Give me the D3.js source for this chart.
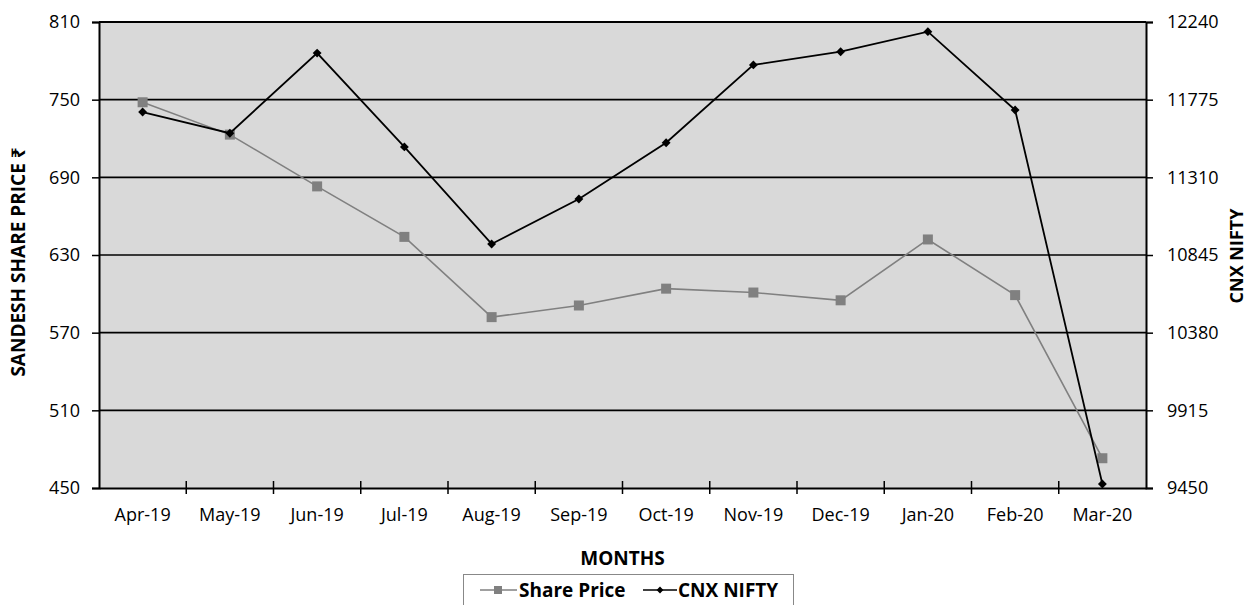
<!DOCTYPE html>
<html>
<head>
<meta charset="utf-8">
<script src="https://cdn.jsdelivr.net/npm/d3@7"></script>
<style>
  body { margin: 0; background: #fff; }
  svg { display: block; }
</style>
</head>
<body>
<script>
var months = ["Apr-19", "May-19", "Jun-19", "Jul-19", "Aug-19", "Sep-19",
  "Oct-19", "Nov-19", "Dec-19", "Jan-20", "Feb-20", "Mar-20"];
var sharePrice = [748, 723, 683, 644, 582, 591, 604, 601, 595, 642, 599, 473];
var cnxNifty = [11701, 11574, 12054, 11492, 10911, 11180, 11517, 11983, 12062, 12182, 11713, 9474];
var leftTicks = [450, 510, 570, 630, 690, 750, 810];
var rightTicks = [9450, 9915, 10380, 10845, 11310, 11775, 12240];

var font = "'Open Sans', 'Noto Sans', sans-serif";

var width = 1247,
  height = 605,
  margin = { top: 22, right: 101, bottom: 117, left: 99 };

var svg = d3.select("body").append("svg")
  .attr("width", width)
  .attr("height", height)
  .style("font-family", font);

var x = d3.scaleBand()
  .domain(months)
  .range([margin.left, width - margin.right]);

var yLeft = d3.scaleLinear()
  .domain([450, 810])
  .range([height - margin.bottom, margin.top]);

var yRight = d3.scaleLinear()
  .domain([9450, 12240])
  .range([height - margin.bottom, margin.top]);

// plot background
svg.append("rect")
  .attr("x", margin.left)
  .attr("y", margin.top)
  .attr("width", width - margin.left - margin.right)
  .attr("height", height - margin.top - margin.bottom)
  .attr("fill", "#d9d9d9");

// gridlines
svg.append("g")
  .selectAll("line")
  .data(leftTicks.slice(1))
  .enter()
  .append("line")
  .attr("x1", margin.left)
  .attr("x2", width - margin.right)
  .attr("y1", d => yLeft(d))
  .attr("y2", d => yLeft(d))
  .attr("stroke", "#000")
  .attr("stroke-width", d => d == 810 ? 2 : 1.6);

// axes
var leftAxis = svg.append("g")
  .attr("transform", `translate(${margin.left},0)`)
  .call(d3.axisLeft(yLeft).tickValues(leftTicks).tickSize(7).tickPadding(12));

var rightAxis = svg.append("g")
  .attr("transform", `translate(${width - margin.right},0)`)
  .call(d3.axisRight(yRight).tickValues(rightTicks).tickFormat(d3.format("d")).tickSize(7).tickPadding(14));

var bottomAxis = svg.append("g")
  .attr("transform", `translate(0,${height - margin.bottom})`)
  .call(d3.axisBottom(x).tickSize(0).tickPadding(20));

[leftAxis, rightAxis, bottomAxis].forEach(a => {
  a.attr("font-family", font).attr("font-size", 18);
  a.selectAll(".tick text").attr("fill", "#000");
  a.select(".domain").attr("stroke", "#000").attr("stroke-width", 2);
  a.selectAll(".tick line").attr("stroke", "#000").attr("stroke-width", 1.5);
});

// category boundary ticks on x axis
svg.append("g")
  .selectAll("line")
  .data(months.slice(1))
  .enter()
  .append("line")
  .attr("x1", d => x(d))
  .attr("x2", d => x(d))
  .attr("y1", height - margin.bottom - 7)
  .attr("y2", height - margin.bottom + 6)
  .attr("stroke", "#000")
  .attr("stroke-width", 1.5);

// share price line
var lineLeft = d3.line()
  .x((d, i) => x(months[i]) + x.bandwidth() / 2)
  .y(d => yLeft(d));

svg.append("path")
  .datum(sharePrice)
  .attr("d", lineLeft)
  .attr("fill", "none")
  .attr("stroke", "#808080")
  .attr("stroke-width", 1.6);

svg.append("g")
  .selectAll("rect")
  .data(sharePrice)
  .enter()
  .append("rect")
  .attr("x", (d, i) => x(months[i]) + x.bandwidth() / 2 - 5)
  .attr("y", d => yLeft(d) - 5)
  .attr("width", 10)
  .attr("height", 10)
  .attr("fill", "#808080");

// nifty line
var lineRight = d3.line()
  .x((d, i) => x(months[i]) + x.bandwidth() / 2)
  .y(d => yRight(d));

svg.append("path")
  .datum(cnxNifty)
  .attr("d", lineRight)
  .attr("fill", "none")
  .attr("stroke", "#000")
  .attr("stroke-width", 1.8);

var diamond = d3.symbol().type(d3.symbolDiamond2).size(50);

svg.append("g")
  .selectAll("path")
  .data(cnxNifty)
  .enter()
  .append("path")
  .attr("d", diamond)
  .attr("transform", (d, i) => `translate(${x(months[i]) + x.bandwidth() / 2},${yRight(d)})`)
  .attr("fill", "#000");

// axis titles
svg.append("text")
  .attr("x", (margin.left + width - margin.right) / 2)
  .attr("y", 565)
  .attr("text-anchor", "middle")
  .attr("font-weight", "bold")
  .attr("font-size", 19)
  .text("MONTHS");

svg.append("text")
  .attr("transform", "translate(25,262) rotate(-90)")
  .attr("text-anchor", "middle")
  .attr("font-weight", "bold")
  .attr("font-size", 19)
  .text("SANDESH SHARE PRICE ₹");

svg.append("text")
  .attr("transform", "translate(1243,256) rotate(-90)")
  .attr("text-anchor", "middle")
  .attr("font-weight", "bold")
  .attr("font-size", 18)
  .text("CNX NIFTY");

// legend
var legend = svg.append("g");

legend.append("rect")
  .attr("x", 463.5)
  .attr("y", 574.5)
  .attr("width", 330)
  .attr("height", 40)
  .attr("fill", "#fff")
  .attr("stroke", "#888")
  .attr("stroke-width", 1);

legend.append("line")
  .attr("x1", 480).attr("x2", 517)
  .attr("y1", 590).attr("y2", 590)
  .attr("stroke", "#808080").attr("stroke-width", 1.6);
legend.append("rect")
  .attr("x", 494).attr("y", 586)
  .attr("width", 8).attr("height", 8)
  .attr("fill", "#808080");
legend.append("text")
  .attr("x", 519).attr("y", 597)
  .attr("font-weight", "bold")
  .attr("font-size", 19)
  .text("Share Price");

legend.append("line")
  .attr("x1", 643).attr("x2", 677)
  .attr("y1", 590).attr("y2", 590)
  .attr("stroke", "#000").attr("stroke-width", 1.6);
legend.append("path")
  .attr("d", d3.symbol().type(d3.symbolDiamond2).size(30))
  .attr("transform", "translate(660,590)")
  .attr("fill", "#000");
legend.append("text")
  .attr("x", 678).attr("y", 597)
  .attr("font-weight", "bold")
  .attr("font-size", 19)
  .text("CNX NIFTY");
</script>
</body>
</html>
